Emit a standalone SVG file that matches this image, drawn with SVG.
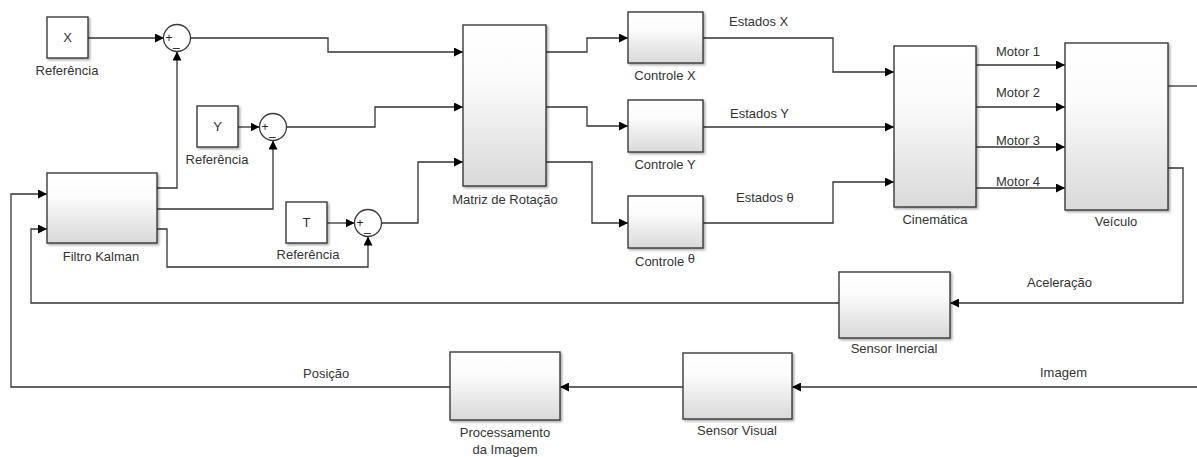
<svg xmlns="http://www.w3.org/2000/svg" width="1197" height="457" viewBox="0 0 1197 457">
<style>
  text { font-family: "Liberation Sans", Arial, sans-serif; font-size: 13px; fill: #333; }
  .c { text-anchor: middle; }
  .blk { fill: url(#g); stroke: #3a3a3a; stroke-width: 1.4; filter: url(#sh); }
  .ref { fill: #fff; stroke: #3a3a3a; stroke-width: 1.4; filter: url(#sh); }
  .sum { fill: #fff; stroke: #3a3a3a; stroke-width: 1.3; }
  .w { fill: none; stroke: #333; stroke-width: 1.3; }
  .a { marker-end: url(#ar); }
  .sg { font-size: 12px; fill: #222; }
</style>
<defs>
  <linearGradient id="g" x1="0" y1="0" x2="0" y2="1">
    <stop offset="0" stop-color="#ffffff"/>
    <stop offset="0.35" stop-color="#fbfbfb"/>
    <stop offset="1" stop-color="#d9d9d9"/>
  </linearGradient>
  <filter id="sh" x="-10%" y="-10%" width="130%" height="130%">
    <feDropShadow dx="1.5" dy="1.5" stdDeviation="0.8" flood-color="#000" flood-opacity="0.35"/>
  </filter>
  <marker id="ar" viewBox="0 0 10 10" refX="10" refY="5" markerUnits="userSpaceOnUse" markerWidth="9" markerHeight="9" orient="auto">
    <path d="M0,0 L10,5 L0,10 z" fill="#000"/>
  </marker>
</defs>
<rect width="1197" height="457" fill="#fff"/>

<g id="connectors">
  <path class="w a" d="M88,38 H164"/>
  <path class="w a" d="M190.5,38 H328 V52 H463"/>
  <path class="w a" d="M238,127 H259.5"/>
  <path class="w a" d="M286.5,127 H375 V107 H463"/>
  <path class="w a" d="M327,223 H354.5"/>
  <path class="w a" d="M381.5,223 H418 V162 H463"/>
  <path class="w a" d="M157,188 H177 V51.5"/>
  <path class="w a" d="M157,209 H273 V140.5"/>
  <path class="w a" d="M157,229 H167 V267 H368 V236.5"/>
  <path class="w a" d="M546,52 H587 V38 H628"/>
  <path class="w a" d="M546,107 H587 V126 H628"/>
  <path class="w a" d="M546,162 H592 V223 H628"/>
  <path class="w a" d="M703,38 H833 V72 H894"/>
  <path class="w a" d="M703,127 H894"/>
  <path class="w a" d="M703,223 H833 V182 H894"/>
  <path class="w a" d="M976,65 H1065"/>
  <path class="w a" d="M976,107 H1065"/>
  <path class="w a" d="M976,147 H1065"/>
  <path class="w a" d="M976,188 H1065"/>
  <path class="w" d="M1168,86 H1197"/>
  <path class="w a" d="M1168,168 H1183 V303 H950"/>
  <path class="w a" d="M839,303 H31 V229 H47"/>
  <path class="w a" d="M1197,387 H792"/>
  <path class="w a" d="M683,387 H560"/>
  <path class="w a" d="M450,387 H11 V194 H47"/>
  <text x="729" y="26">Estados X</text>
  <text x="730" y="118">Estados Y</text>
  <text x="736" y="202">Estados θ</text>
  <text x="996" y="56">Motor 1</text>
  <text x="996" y="97">Motor 2</text>
  <text x="996" y="145">Motor 3</text>
  <text x="996" y="186">Motor 4</text>
  <text x="1027" y="287">Aceleração</text>
  <text x="303" y="378">Posição</text>
  <text x="1040" y="377">Imagem</text>
</g>

<g id="refX">
  <rect class="ref" x="47" y="17" width="41" height="41"/>
  <text class="c" x="67.5" y="42">X</text>
  <text class="c" x="67" y="75">Referência</text>
</g>
<g id="refY">
  <rect class="ref" x="197" y="106" width="41" height="41"/>
  <text class="c" x="217.5" y="131">Y</text>
  <text class="c" x="217" y="164">Referência</text>
</g>
<g id="refT">
  <rect class="ref" x="286" y="202" width="41" height="41"/>
  <text class="c" x="306.5" y="227">T</text>
  <text class="c" x="308" y="259">Referência</text>
</g>

<g id="sum1">
  <circle class="sum" cx="177" cy="38" r="13.5"/>
  <text class="sg" x="165.5" y="42">+</text>
  <text class="sg" x="173" y="46">_</text>
</g>
<g id="sum2">
  <circle class="sum" cx="273" cy="127" r="13.5"/>
  <text class="sg" x="261.5" y="131">+</text>
  <text class="sg" x="269" y="135">_</text>
</g>
<g id="sum3">
  <circle class="sum" cx="368" cy="223" r="13.5"/>
  <text class="sg" x="356.5" y="227">+</text>
  <text class="sg" x="364" y="231">_</text>
</g>

<g id="filtro">
  <rect class="blk" x="47" y="173" width="110" height="70"/>
  <text class="c" x="101" y="261">Filtro Kalman</text>
</g>
<g id="matriz">
  <rect class="blk" x="463" y="25" width="83" height="161"/>
  <text class="c" x="505" y="204">Matriz de Rotação</text>
</g>
<g id="controleX">
  <rect class="blk" x="628" y="12" width="75" height="51"/>
  <text class="c" x="665" y="80">Controle X</text>
</g>
<g id="controleY">
  <rect class="blk" x="628" y="100" width="75" height="52"/>
  <text class="c" x="665" y="169">Controle Y</text>
</g>
<g id="controleT">
  <rect class="blk" x="628" y="196" width="75" height="52"/>
  <text class="c" x="665" y="266">Controle  <tspan dy="-3">θ</tspan></text>
</g>
<g id="cinematica">
  <rect class="blk" x="894" y="46" width="82" height="161"/>
  <text class="c" x="935" y="224">Cinemática</text>
</g>
<g id="veiculo">
  <rect class="blk" x="1065" y="43" width="103" height="167"/>
  <text class="c" x="1116" y="226">Veículo</text>
</g>
<g id="sensorInercial">
  <rect class="blk" x="839" y="272" width="111" height="66"/>
  <text class="c" x="894" y="353">Sensor Inercial</text>
</g>
<g id="sensorVisual">
  <rect class="blk" x="683" y="353" width="109" height="66"/>
  <text class="c" x="737" y="435">Sensor Visual</text>
</g>
<g id="processamento">
  <rect class="blk" x="450" y="352" width="110" height="68"/>
  <text class="c" x="505" y="437">Processamento</text>
  <text class="c" x="505" y="454">da Imagem</text>
</g>
</svg>
